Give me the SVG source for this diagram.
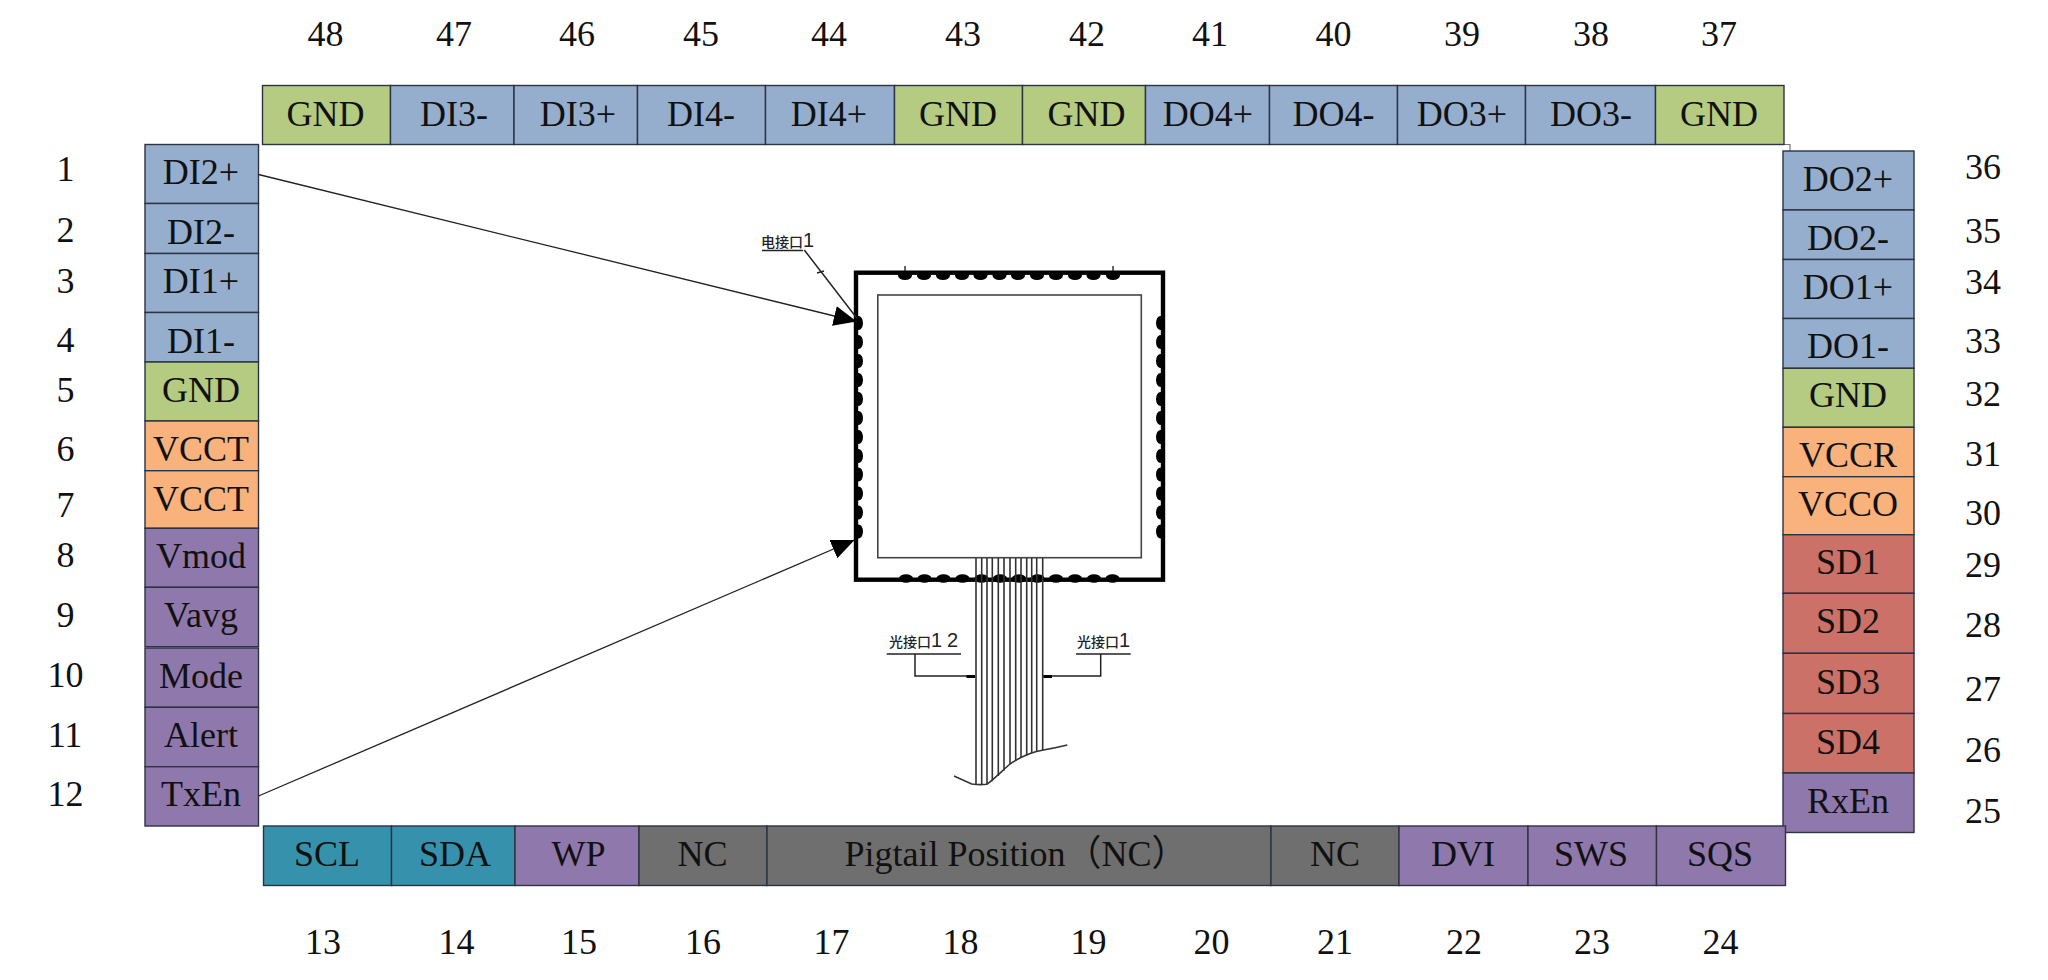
<svg xmlns="http://www.w3.org/2000/svg" width="2048" height="980" viewBox="0 0 2048 980">
<style>
text{font-family:"Liberation Serif","Noto Sans CJK SC",serif;fill:#111}
.l{font-size:36px;text-anchor:middle}
.n{font-size:36px;text-anchor:middle}
.p{stroke:#2b3440;stroke-width:1.4}
.b{fill:#95aecd}.g{fill:#b5cb82}.o{fill:#fab27c}.v{fill:#8f78ab}.r{fill:#cc7168}.t{fill:#3691ac}.k{fill:#6f6f6f}
.cj{font-family:"Noto Sans CJK SC",sans-serif;font-size:14px;font-weight:500;fill:#222}
.dg{font-family:"Liberation Sans",sans-serif;font-size:20px;font-weight:400;letter-spacing:5px}
.w{fill:none;stroke:#222;stroke-width:1.5}
.f{fill:none;stroke:#333;stroke-width:1.6}
.c{fill:none;stroke:#222;stroke-width:1.3}
.d{fill:#000}
</style>
<defs>
<marker id="ah" markerUnits="userSpaceOnUse" markerWidth="24" markerHeight="20" viewBox="0 0 24 20" refX="23" refY="10" orient="auto"><path d="M0 0L23 10L0 20Z" fill="#000"/></marker>
</defs>
<rect width="2048" height="980" fill="#fff"/>
<path d="M1784 144.5H1790V151" fill="none" stroke="#777" stroke-width="1.2"/>

<g id="pin-48"><rect class="p g" x="262.5" y="85.5" width="128" height="59"/><text class="l" x="325.5" y="126">GND</text><text class="n" x="325.5" y="46">48</text></g>
<g id="pin-47"><rect class="p b" x="390.5" y="85.5" width="123.5" height="59"/><text class="l" x="454" y="126">DI3-</text><text class="n" x="454" y="46">47</text></g>
<g id="pin-46"><rect class="p b" x="514" y="85.5" width="123.5" height="59"/><text class="l" x="578" y="126">DI3+</text><text class="n" x="577" y="46">46</text></g>
<g id="pin-45"><rect class="p b" x="637.5" y="85.5" width="128" height="59"/><text class="l" x="701" y="126">DI4-</text><text class="n" x="701" y="46">45</text></g>
<g id="pin-44"><rect class="p b" x="765.5" y="85.5" width="129" height="59"/><text class="l" x="829" y="126">DI4+</text><text class="n" x="829" y="46">44</text></g>
<g id="pin-43"><rect class="p g" x="894.5" y="85.5" width="128" height="59"/><text class="l" x="958" y="126">GND</text><text class="n" x="963" y="46">43</text></g>
<g id="pin-42"><rect class="p g" x="1022.5" y="85.5" width="123" height="59"/><text class="l" x="1086.5" y="126">GND</text><text class="n" x="1087" y="46">42</text></g>
<g id="pin-41"><rect class="p b" x="1145.5" y="85.5" width="124" height="59"/><text class="l" x="1208" y="126">DO4+</text><text class="n" x="1210" y="46">41</text></g>
<g id="pin-40"><rect class="p b" x="1269.5" y="85.5" width="128" height="59"/><text class="l" x="1333.5" y="126">DO4-</text><text class="n" x="1333.5" y="46">40</text></g>
<g id="pin-39"><rect class="p b" x="1397.5" y="85.5" width="128" height="59"/><text class="l" x="1462" y="126">DO3+</text><text class="n" x="1462" y="46">39</text></g>
<g id="pin-38"><rect class="p b" x="1525.5" y="85.5" width="130" height="59"/><text class="l" x="1591" y="126">DO3-</text><text class="n" x="1591" y="46">38</text></g>
<g id="pin-37"><rect class="p g" x="1655.5" y="85.5" width="128.5" height="59"/><text class="l" x="1719" y="126">GND</text><text class="n" x="1719" y="46">37</text></g>

<g id="pin-1"><rect class="p b" x="145" y="144.5" width="113.5" height="59"/><text class="l" x="201" y="184">DI2+</text><text class="n" x="65.5" y="181">1</text></g>
<g id="pin-2"><rect class="p b" x="145" y="203.5" width="113.5" height="50"/><text class="l" x="201" y="243.5">DI2-</text><text class="n" x="65.5" y="241.7">2</text></g>
<g id="pin-3"><rect class="p b" x="145" y="253.5" width="113.5" height="59"/><text class="l" x="201" y="293">DI1+</text><text class="n" x="65.5" y="292.7">3</text></g>
<g id="pin-4"><rect class="p b" x="145" y="312.5" width="113.5" height="49.5"/><text class="l" x="201" y="352.5">DI1-</text><text class="n" x="65.5" y="351.7">4</text></g>
<g id="pin-5"><rect class="p g" x="145" y="362" width="113.5" height="59"/><text class="l" x="201" y="401.7">GND</text><text class="n" x="65.5" y="401.7">5</text></g>
<g id="pin-6"><rect class="p o" x="145" y="421" width="113.5" height="49.7"/><text class="l" x="201" y="460.7">VCCT</text><text class="n" x="65.5" y="460.7">6</text></g>
<g id="pin-7"><rect class="p o" x="145" y="470.7" width="113.5" height="57.6"/><text class="l" x="201" y="510.7">VCCT</text><text class="n" x="65.5" y="516.7">7</text></g>
<g id="pin-8"><rect class="p v" x="145" y="528.3" width="113.5" height="59"/><text class="l" x="201" y="568">Vmod</text><text class="n" x="65.5" y="567.3">8</text></g>
<g id="pin-9"><rect class="p v" x="145" y="587.3" width="113.5" height="59.4"/><text class="l" x="201" y="627.3">Vavg</text><text class="n" x="65.5" y="626.7">9</text></g>
<g id="pin-10"><rect class="p v" x="145" y="648" width="113.5" height="59.3"/><text class="l" x="201" y="687.5">Mode</text><text class="n" x="65.5" y="687.3">10</text></g>
<g id="pin-11"><rect class="p v" x="145" y="707.3" width="113.5" height="59.4"/><text class="l" x="201" y="746.8">Alert</text><text class="n" x="65" y="746.7">11</text></g>
<g id="pin-12"><rect class="p v" x="145" y="766.7" width="113.5" height="59.3"/><text class="l" x="201" y="806">TxEn</text><text class="n" x="65.5" y="806">12</text></g>

<g id="pin-36"><rect class="p b" x="1783" y="151" width="131" height="59"/><text class="l" x="1848" y="190.5">DO2+</text><text class="n" x="1983" y="179.3">36</text></g>
<g id="pin-35"><rect class="p b" x="1783" y="210" width="131" height="49.5"/><text class="l" x="1848" y="249.5">DO2-</text><text class="n" x="1983" y="242.7">35</text></g>
<g id="pin-34"><rect class="p b" x="1783" y="259.5" width="131" height="59"/><text class="l" x="1848" y="298.5">DO1+</text><text class="n" x="1983" y="294">34</text></g>
<g id="pin-33"><rect class="p b" x="1783" y="318.5" width="131" height="49.8"/><text class="l" x="1848" y="357.5">DO1-</text><text class="n" x="1983" y="353.3">33</text></g>
<g id="pin-32"><rect class="p g" x="1783" y="368.3" width="131" height="59"/><text class="l" x="1848" y="407.3">GND</text><text class="n" x="1983" y="405.7">32</text></g>
<g id="pin-31"><rect class="p o" x="1783" y="427.3" width="131" height="49.4"/><text class="l" x="1848" y="466.5">VCCR</text><text class="n" x="1983" y="466.2">31</text></g>
<g id="pin-30"><rect class="p o" x="1783" y="476.7" width="131" height="58"/><text class="l" x="1848" y="516">VCCO</text><text class="n" x="1983" y="525.3">30</text></g>
<g id="pin-29"><rect class="p r" x="1783" y="534.7" width="131" height="58.6"/><text class="l" x="1848" y="574">SD1</text><text class="n" x="1983" y="577">29</text></g>
<g id="pin-28"><rect class="p r" x="1783" y="593.3" width="131" height="60"/><text class="l" x="1848" y="633.3">SD2</text><text class="n" x="1983" y="637.3">28</text></g>
<g id="pin-27"><rect class="p r" x="1783" y="653.3" width="131" height="60.2"/><text class="l" x="1848" y="693.5">SD3</text><text class="n" x="1983" y="700.5">27</text></g>
<g id="pin-26"><rect class="p r" x="1783" y="713.5" width="131" height="59.5"/><text class="l" x="1848" y="753.5">SD4</text><text class="n" x="1983" y="761.5">26</text></g>
<g id="pin-25"><rect class="p v" x="1783" y="773" width="131" height="59.5"/><text class="l" x="1848" y="812.5">RxEn</text><text class="n" x="1983" y="822.5">25</text></g>

<g id="pin-13"><rect class="p t" x="263.5" y="826" width="128" height="59.5"/><text class="l" x="327" y="866">SCL</text><text class="n" x="323" y="954">13</text></g>
<g id="pin-14"><rect class="p t" x="391.5" y="826" width="123.5" height="59.5"/><text class="l" x="455" y="866">SDA</text><text class="n" x="456.5" y="954">14</text></g>
<g id="pin-15"><rect class="p v" x="515" y="826" width="124" height="59.5"/><text class="l" x="578.5" y="866">WP</text><text class="n" x="579" y="954">15</text></g>
<g id="pin-16"><rect class="p k" x="639" y="826" width="128" height="59.5"/><text class="l" x="702.5" y="866">NC</text><text class="n" x="703" y="954">16</text></g>
<g id="pin-17-20"><rect class="p k" x="767" y="826" width="504" height="59.5"/><text font-size="36" x="844.5" y="866">Pigtail Position（NC）</text></g>
<g id="pin-numbers-17-20"><text class="n" x="831.5" y="954">17</text><text class="n" x="960.5" y="954">18</text><text class="n" x="1088.5" y="954">19</text><text class="n" x="1211.5" y="954">20</text></g>
<g id="pin-21"><rect class="p k" x="1271" y="826" width="128" height="59.5"/><text class="l" x="1335" y="866">NC</text><text class="n" x="1335" y="954">21</text></g>
<g id="pin-22"><rect class="p v" x="1399" y="826" width="129" height="59.5"/><text class="l" x="1463" y="866">DVI</text><text class="n" x="1464" y="954">22</text></g>
<g id="pin-23"><rect class="p v" x="1528" y="826" width="128.5" height="59.5"/><text class="l" x="1591" y="866">SWS</text><text class="n" x="1592" y="954">23</text></g>
<g id="pin-24"><rect class="p v" x="1656.5" y="826" width="129" height="59.5"/><text class="l" x="1720" y="866">SQS</text><text class="n" x="1720.5" y="954">24</text></g>

<g id="module">
<rect x="856" y="272.7" width="307" height="307" fill="none" stroke="#000" stroke-width="4.4"/>
<rect x="877.8" y="295" width="263.5" height="262.7" fill="none" stroke="#444" stroke-width="1.6"/>
<g class="d">
<path d="M905 266V273M1113 266V273" stroke="#000" stroke-width="1.2"/>
<ellipse cx="905" cy="275.5" rx="7" ry="4.5"/><ellipse cx="924" cy="275.5" rx="7" ry="4.5"/><ellipse cx="943" cy="275.5" rx="7" ry="4.5"/><ellipse cx="962" cy="275.5" rx="7" ry="4.5"/><ellipse cx="980.5" cy="275.5" rx="7" ry="4.5"/><ellipse cx="999.5" cy="275.5" rx="7" ry="4.5"/><ellipse cx="1018" cy="275.5" rx="7" ry="4.5"/><ellipse cx="1037" cy="275.5" rx="7" ry="4.5"/><ellipse cx="1056" cy="275.5" rx="7" ry="4.5"/><ellipse cx="1075" cy="275.5" rx="7" ry="4.5"/><ellipse cx="1093.5" cy="275.5" rx="7" ry="4.5"/><ellipse cx="1113" cy="275.5" rx="7" ry="4.5"/>
<ellipse cx="906" cy="578.5" rx="7" ry="4.2"/><ellipse cx="924.5" cy="578.5" rx="7" ry="4.2"/><ellipse cx="943.5" cy="578.5" rx="7" ry="4.2"/><ellipse cx="962.5" cy="578.5" rx="7" ry="4.2"/><ellipse cx="981.5" cy="578.5" rx="7" ry="4.2"/><ellipse cx="1000" cy="578.5" rx="7" ry="4.2"/><ellipse cx="1019" cy="578.5" rx="7" ry="4.2"/><ellipse cx="1037.5" cy="578.5" rx="7" ry="4.2"/><ellipse cx="1056" cy="578.5" rx="7" ry="4.2"/><ellipse cx="1075" cy="578.5" rx="7" ry="4.2"/><ellipse cx="1094" cy="578.5" rx="7" ry="4.2"/><ellipse cx="1112.5" cy="578.5" rx="7" ry="4.2"/>
<ellipse cx="858.5" cy="323" rx="4.5" ry="7"/><ellipse cx="858.5" cy="342" rx="4.5" ry="7"/><ellipse cx="858.5" cy="361" rx="4.5" ry="7"/><ellipse cx="858.5" cy="380" rx="4.5" ry="7"/><ellipse cx="858.5" cy="399" rx="4.5" ry="7"/><ellipse cx="858.5" cy="418" rx="4.5" ry="7"/><ellipse cx="858.5" cy="437" rx="4.5" ry="7"/><ellipse cx="858.5" cy="456" rx="4.5" ry="7"/><ellipse cx="858.5" cy="474.5" rx="4.5" ry="7"/><ellipse cx="858.5" cy="493.5" rx="4.5" ry="7"/><ellipse cx="858.5" cy="512.5" rx="4.5" ry="7"/><ellipse cx="858.5" cy="531.5" rx="4.5" ry="7"/>
<ellipse cx="1160.5" cy="323" rx="4.5" ry="7"/><ellipse cx="1160.5" cy="342" rx="4.5" ry="7"/><ellipse cx="1160.5" cy="361" rx="4.5" ry="7"/><ellipse cx="1160.5" cy="380" rx="4.5" ry="7"/><ellipse cx="1160.5" cy="399" rx="4.5" ry="7"/><ellipse cx="1160.5" cy="418" rx="4.5" ry="7"/><ellipse cx="1160.5" cy="437" rx="4.5" ry="7"/><ellipse cx="1160.5" cy="456" rx="4.5" ry="7"/><ellipse cx="1160.5" cy="474.5" rx="4.5" ry="7"/><ellipse cx="1160.5" cy="493.5" rx="4.5" ry="7"/><ellipse cx="1160.5" cy="512.5" rx="4.5" ry="7"/><ellipse cx="1160.5" cy="531.5" rx="4.5" ry="7"/>
</g>
</g>

<g id="pigtail">
<path class="f" d="M976 558V784.3M981.7 558V784.3M987 558V784.3M992.3 558V781.3M998.3 558V776M1004 558V770.7M1010 558V764M1015.7 558V760.7M1021 558V758M1026.7 558V755M1031.7 558V753.3M1036.7 558V751.7M1042.7 558V750"/>
<path class="f" d="M954 776L971.7 784Q980 785 986.7 784.3C992 781 1003 770 1010 764C1017 759 1022 757 1026.7 755C1032 752 1038 751 1043.3 750Q1055 748 1067.3 745"/>
</g>

<g id="label-e1"><text class="cj" x="761" y="247">电接口<tspan class="dg">1</tspan></text><path class="w" d="M762 250.5H803"/></g>
<g id="label-o12"><text class="cj" x="889" y="647">光接口<tspan class="dg">12</tspan></text><path class="w" d="M886.7 654H961"/></g>
<g id="label-o1"><text class="cj" x="1077" y="647">光接口<tspan class="dg">1</tspan></text><path class="w" d="M1076 654H1130.7"/></g>

<g id="connectors">
<path class="c" d="M258.5 174.5L856.7 321.5" marker-end="url(#ah)"/>
<path class="c" d="M258.5 796L854.5 540" marker-end="url(#ah)"/>
<path class="w" d="M804.3 250L856.7 318"/>
<path d="M817 273L824 271" class="w"/>
<path class="w" d="M915 654V676H975"/>
<path class="w" d="M1100.7 654V676H1043.3"/>
<path d="M966.5 676.5H975M1043.5 676.5H1052" stroke="#000" stroke-width="3" fill="none"/>
</g>
</svg>
